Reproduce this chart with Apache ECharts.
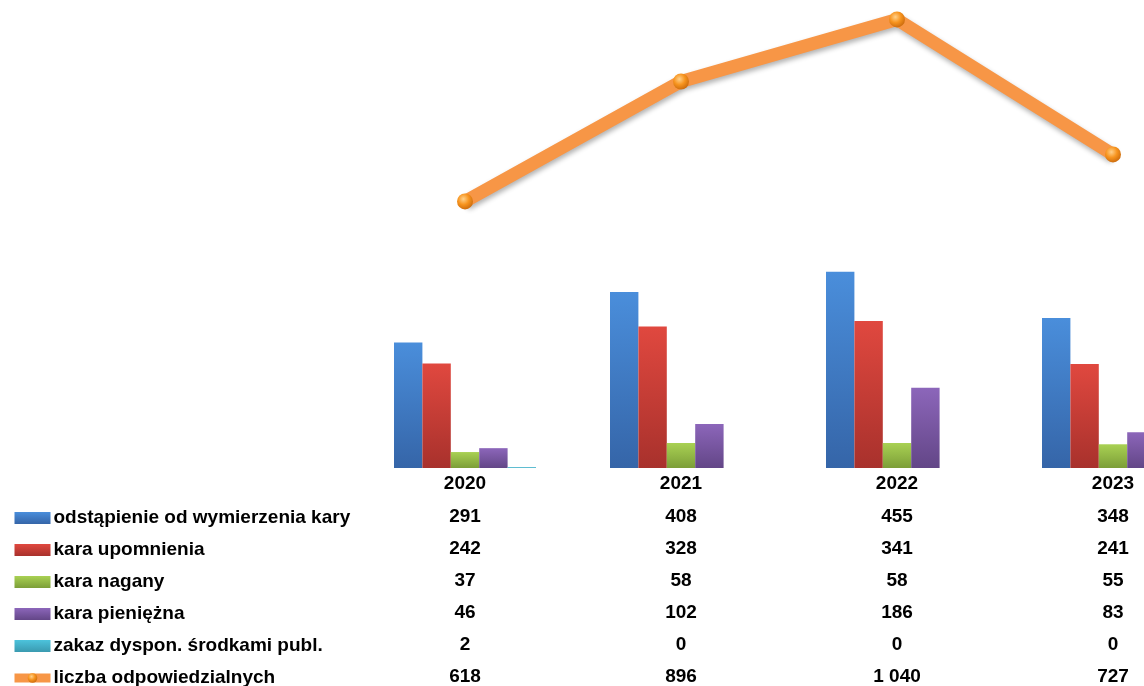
<!DOCTYPE html>
<html>
<head>
<meta charset="utf-8">
<script src="https://cdn.jsdelivr.net/npm/echarts@6/dist/echarts.min.js"></script>
<style>html,body{margin:0;padding:0;background:#fff;overflow:hidden;width:1144px;height:686px}#c{width:1240px;height:700px}</style>
</head>
<body>
<div id="c"></div>
<script>
const categories = ['2020', '2021', '2022', '2023'];
const seriesNames = [
  'odstąpienie od wymierzenia kary',
  'kara upomnienia',
  'kara nagany',
  'kara pieniężna',
  'zakaz dyspon. środkami publ.',
  'liczba odpowiedzialnych'
];
const odstapienie = [291, 408, 455, 348];
const upomnienie = [242, 328, 341, 241];
const nagana = [37, 58, 58, 55];
const pieniezna = [46, 102, 186, 83];
const zakaz = [2, 0, 0, 0];
const odpowiedzialni = [618, 896, 1040, 727];

const FONT = "'Liberation Sans Narrow', 'Liberation Sans', sans-serif";
const barData = [odstapienie, upomnienie, nagana, pieniezna, zakaz];
const barColors = [
  ['#4a8edb', '#3565a8'],
  ['#e0483f', '#a8312c'],
  ['#a9d153', '#7c9e38'],
  ['#8c66ba', '#634687'],
  ['#4cc3dc', '#3a9ab0']
];
function grad(c) {
  return new echarts.graphic.LinearGradient(0, 0, 0, 1, [
    { offset: 0, color: c[0] }, { offset: 1, color: c[1] }
  ]);
}
function fmt(v) {
  return String(v).replace(/\B(?=(\d{3})+(?!\d))/g, ' ');
}
const allRows = [odstapienie, upomnienie, nagana, pieniezna, zakaz, odpowiedzialni];
const ballColor = new echarts.graphic.RadialGradient(0.4, 0.35, 0.7, [
  { offset: 0, color: '#ffd08a' }, { offset: 0.5, color: '#f7941e' }, { offset: 1, color: '#c8680c' }
]);

const series = barData.map((d, i) => ({
  name: seriesNames[i],
  type: 'bar',
  data: d,
  barWidth: 28.4,
  barGap: '0%',
  itemStyle: { color: grad(barColors[i]) }
}));
series.push({
  name: seriesNames[5],
  type: 'line',
  data: odpowiedzialni,
  symbol: 'circle',
  symbolSize: 16,
  itemStyle: { color: ballColor },
  lineStyle: {
    color: '#f79646', width: 13,
    shadowColor: 'rgba(0,0,0,0.3)', shadowBlur: 5, shadowOffsetY: 3, shadowOffsetX: 1
  },
  z: 5
});

const chart = echarts.init(document.getElementById('c'));
chart.setOption({
  animation: false,
  textStyle: { fontFamily: FONT },
  grid: { left: 357, width: 864, top: 0, bottom: 232, containLabel: false, outerBoundsMode: 'none' },
  xAxis: {
    type: 'category',
    data: categories,
    axisLine: { show: false },
    axisTick: { show: false },
    axisLabel: {
      margin: -1,
      interval: 0,
      formatter: function (val, idx) {
        let s = '{y|' + val + '}';
        allRows.forEach(r => { s += '\n{v|' + fmt(r[idx]) + '}'; });
        return s;
      },
      rich: {
        y: { fontFamily: FONT, fontWeight: 'bold', fontSize: 19, color: '#000', lineHeight: 34 },
        v: { fontFamily: FONT, fontWeight: 'bold', fontSize: 19, color: '#000', lineHeight: 32 }
      }
    }
  },
  yAxis: { type: 'value', min: 0, max: 1085, show: false, splitLine: { show: false } },
  legend: {
    orient: 'vertical',
    left: 10,
    top: 507,
    padding: 0,
    itemWidth: 36,
    itemHeight: 12,
    itemGap: 10,
    data: seriesNames.slice(0, 5).map(n => ({ name: n, icon: 'rect', itemStyle: {} }))
      .concat([{ name: seriesNames[5], lineStyle: { width: 9, color: '#f79646' }, itemStyle: { color: ballColor } }]),
    textStyle: { fontFamily: FONT, fontWeight: 'bold', fontSize: 19, color: '#000', lineHeight: 22, padding: [0, 0, 0, -2] }
  },
  series: series
});
</script>
</body>
</html>
